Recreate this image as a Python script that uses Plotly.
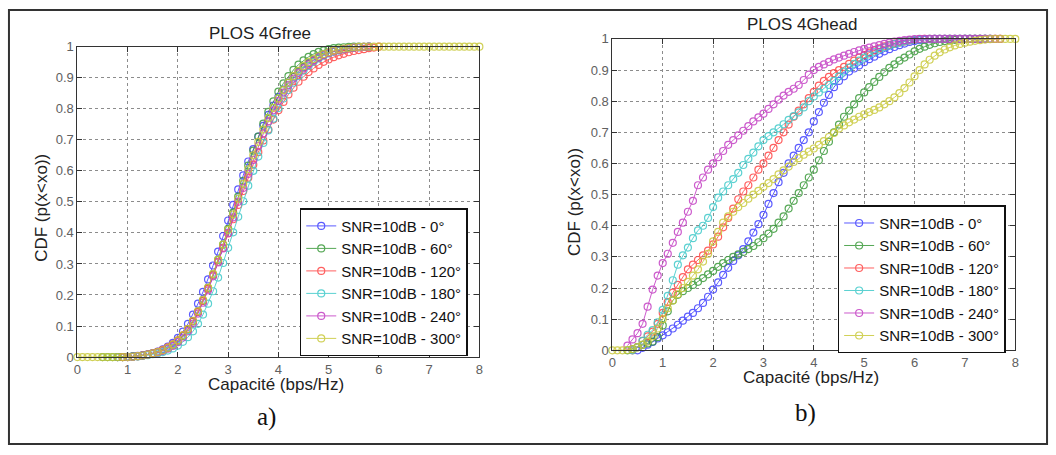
import plotly.graph_objects as go

# ---------------- data ----------------
X_GRID = [0.0, 0.1, 0.2, 0.3, 0.4, 0.5, 0.6, 0.7, 0.8, 0.9,
          1.0, 1.1, 1.2, 1.3, 1.4, 1.5, 1.6, 1.7, 1.8, 1.9,
          2.0, 2.1, 2.2, 2.3, 2.4, 2.5, 2.6, 2.7, 2.8, 2.9,
          3.0, 3.1, 3.2, 3.3, 3.4, 3.5, 3.6, 3.7, 3.8, 3.9,
          4.0, 4.1, 4.2, 4.3, 4.4, 4.5, 4.6, 4.7, 4.8, 4.9,
          5.0, 5.1, 5.2, 5.3, 5.4, 5.5, 5.6, 5.7, 5.8, 5.9,
          6.0, 6.1, 6.2, 6.3, 6.4, 6.5, 6.6, 6.7, 6.8, 6.9,
          7.0, 7.1, 7.2, 7.3, 7.4, 7.5, 7.6, 7.7, 7.8, 7.9, 8.0]

SERIES_NAMES = ["SNR=10dB - 0°", "SNR=10dB - 60°", "SNR=10dB - 120°",
                "SNR=10dB - 180°", "SNR=10dB - 240°", "SNR=10dB - 300°"]

X_TICKS = [0, 1, 2, 3, 4, 5, 6, 7, 8]
Y_TICKS = [0, 0.1, 0.2, 0.3, 0.4, 0.5, 0.6, 0.7, 0.8, 0.9, 1]
Y_TICK_LABELS = ["0", "0.1", "0.2", "0.3", "0.4", "0.5", "0.6", "0.7", "0.8", "0.9", "1"]

# ---- panel a) PLOS 4Gfree : start capacity + CDF values on 0.1 grid ----
A_START = [0.8, 0.5, 0.9, 1.0, 1.0, 0.0]

A_CDF_0 = [0.0, 0.0, 0.001, 0.002, 0.004, 0.006, 0.009, 0.013, 0.018, 0.025,
           0.034, 0.046, 0.062, 0.082, 0.107, 0.137, 0.172, 0.21, 0.25, 0.295,
           0.34, 0.39, 0.44, 0.49, 0.54, 0.585, 0.63, 0.67, 0.71, 0.745,
           0.78, 0.81, 0.838, 0.862, 0.884, 0.903, 0.92, 0.934, 0.947, 0.957,
           0.966, 0.974, 0.98, 0.985, 0.989, 0.992, 0.995, 0.997, 0.998, 0.999, 1.0]
A_CDF_60 = [0.0, 0.0, 0.0, 0.0, 0.0, 0.001, 0.002, 0.003, 0.005, 0.008,
            0.011, 0.015, 0.021, 0.029, 0.039, 0.052, 0.068, 0.089, 0.115, 0.146,
            0.182, 0.222, 0.266, 0.313, 0.362, 0.413, 0.465, 0.517, 0.568, 0.617,
            0.665, 0.71, 0.752, 0.79, 0.824, 0.855, 0.882, 0.905, 0.925, 0.942,
            0.956, 0.967, 0.976, 0.983, 0.988, 0.992, 0.995, 0.997, 0.998, 0.999,
            1.0, 1.0]
A_CDF_120 = [0.0, 0.0, 0.001, 0.003, 0.005, 0.008, 0.012, 0.017, 0.023, 0.031,
             0.041, 0.054, 0.07, 0.09, 0.115, 0.145, 0.18, 0.22, 0.263, 0.307,
             0.352, 0.398, 0.444, 0.49, 0.535, 0.578, 0.62, 0.66, 0.698, 0.733,
             0.765, 0.795, 0.822, 0.846, 0.868, 0.887, 0.903, 0.918, 0.93, 0.941,
             0.951, 0.959, 0.966, 0.972, 0.977, 0.982, 0.986, 0.989, 0.992, 0.995,
             0.997, 1.0]
A_CDF_180 = [0.0, 0.001, 0.002, 0.004, 0.006, 0.009, 0.012, 0.016, 0.021, 0.028,
             0.037, 0.049, 0.064, 0.083, 0.107, 0.137, 0.172, 0.212, 0.256, 0.303,
             0.352, 0.402, 0.452, 0.502, 0.552, 0.6, 0.646, 0.69, 0.73, 0.768,
             0.802, 0.833, 0.86, 0.884, 0.905, 0.923, 0.938, 0.951, 0.962, 0.971,
             0.978, 0.984, 0.988, 0.992, 0.995, 0.997, 0.998, 0.999, 1.0]
A_CDF_240 = [0.0, 0.001, 0.003, 0.005, 0.008, 0.011, 0.015, 0.02, 0.027, 0.036,
             0.048, 0.063, 0.083, 0.108, 0.14, 0.175, 0.215, 0.26, 0.305, 0.35,
             0.4, 0.45, 0.5, 0.545, 0.59, 0.635, 0.68, 0.72, 0.76, 0.795,
             0.825, 0.852, 0.876, 0.897, 0.915, 0.93, 0.943, 0.955, 0.965, 0.973,
             0.98, 0.985, 0.989, 0.992, 0.995, 0.997, 0.998, 0.999, 1.0]
A_CDF_300 = [0.0, 0.0, 0.0, 0.0, 0.0, 0.0, 0.0, 0.0, 0.0, 0.0,
             0.0, 0.001, 0.003, 0.005, 0.008, 0.012, 0.016, 0.022, 0.03, 0.04,
             0.053, 0.07, 0.091, 0.117, 0.148, 0.184, 0.224, 0.268, 0.314, 0.362,
             0.41, 0.46, 0.51, 0.558, 0.605, 0.65, 0.693, 0.733, 0.77, 0.803,
             0.833, 0.86, 0.884, 0.905, 0.922, 0.937, 0.95, 0.96, 0.969, 0.976,
             0.982, 0.987, 0.991, 0.994, 0.996, 0.998, 0.999, 1.0, 1.0, 1.0,
             1.0, 1.0, 1.0, 1.0, 1.0, 1.0, 1.0, 1.0, 1.0, 1.0,
             1.0, 1.0, 1.0, 1.0, 1.0, 1.0, 1.0, 1.0, 1.0, 1.0, 1.0]

# ---- panel b) PLOS 4Ghead ----
B_START = [0.5, 0.3, 0.4, 0.4, 0.3, 0.0]

B_CDF_0 = [0.0, 0.008, 0.018, 0.027, 0.038, 0.048, 0.058, 0.07, 0.082, 0.095,
           0.108, 0.12, 0.135, 0.152, 0.172, 0.195, 0.218, 0.242, 0.265, 0.287,
           0.305, 0.325, 0.35, 0.378, 0.405, 0.435, 0.47, 0.505, 0.54, 0.57,
           0.6, 0.625, 0.65, 0.675, 0.7, 0.735, 0.765, 0.795, 0.82, 0.845,
           0.865, 0.88, 0.895, 0.905, 0.915, 0.925, 0.935, 0.943, 0.952, 0.96,
           0.967, 0.974, 0.98, 0.985, 0.99, 0.993, 0.996, 0.998, 0.999, 1.0,
           1.0, 1.0, 1.0, 1.0, 1.0, 1.0, 1.0, 1.0, 1.0, 1.0, 1.0]
B_CDF_60 = [0.0, 0.004, 0.01, 0.017, 0.022, 0.028, 0.042, 0.08, 0.125, 0.16,
            0.178, 0.19, 0.2, 0.21, 0.22, 0.232, 0.244, 0.255, 0.268, 0.28,
            0.29, 0.3, 0.308, 0.316, 0.325, 0.335, 0.347, 0.36, 0.375, 0.39,
            0.41, 0.43, 0.455, 0.48, 0.505, 0.53, 0.555, 0.58, 0.61, 0.64,
            0.67, 0.7, 0.725, 0.75, 0.77, 0.79, 0.81, 0.828, 0.845, 0.862,
            0.878, 0.893, 0.907, 0.918, 0.93, 0.94, 0.95, 0.96, 0.968, 0.975,
            0.981, 0.986, 0.99, 0.993, 0.995, 0.997, 0.999, 1.0, 1.0, 1.0,
            1.0, 1.0]
B_CDF_120 = [0.0, 0.01, 0.03, 0.045, 0.06, 0.085, 0.12, 0.155, 0.185, 0.21,
             0.235, 0.26, 0.275, 0.29, 0.305, 0.32, 0.34, 0.365, 0.395, 0.425,
             0.455, 0.485, 0.51, 0.53, 0.555, 0.58, 0.6, 0.625, 0.65, 0.675,
             0.7, 0.725, 0.75, 0.77, 0.79, 0.81, 0.83, 0.85, 0.865, 0.878,
             0.89, 0.9, 0.91, 0.92, 0.93, 0.94, 0.948, 0.956, 0.963, 0.97,
             0.976, 0.981, 0.985, 0.989, 0.992, 0.995, 0.997, 0.999, 1.0, 1.0,
             1.0, 1.0, 1.0, 1.0, 1.0, 1.0, 1.0, 1.0, 1.0, 1.0,
             1.0, 1.0, 1.0, 1.0]
B_CDF_180 = [0.0, 0.01, 0.03, 0.05, 0.065, 0.09, 0.13, 0.175, 0.225, 0.275,
             0.305, 0.33, 0.36, 0.385, 0.4, 0.425, 0.46, 0.49, 0.51, 0.53,
             0.55, 0.57, 0.595, 0.615, 0.635, 0.655, 0.675, 0.688, 0.7, 0.713,
             0.726, 0.74, 0.752, 0.764, 0.78, 0.8, 0.815, 0.828, 0.84, 0.852,
             0.865, 0.88, 0.895, 0.908, 0.92, 0.93, 0.94, 0.95, 0.958, 0.966,
             0.973, 0.979, 0.984, 0.988, 0.992, 0.995, 0.997, 0.998, 0.999, 1.0,
             1.0, 1.0, 1.0, 1.0, 1.0, 1.0, 1.0, 1.0, 1.0, 1.0,
             1.0, 1.0]
B_CDF_240 = [0.015, 0.035, 0.055, 0.085, 0.14, 0.195, 0.24, 0.28, 0.31, 0.345,
             0.38, 0.41, 0.445, 0.48, 0.53, 0.555, 0.58, 0.6, 0.62, 0.64,
             0.66, 0.675, 0.69, 0.705, 0.72, 0.735, 0.748, 0.76, 0.775, 0.79,
             0.805, 0.818, 0.83, 0.84, 0.852, 0.868, 0.885, 0.9, 0.91, 0.918,
             0.926, 0.934, 0.94, 0.946, 0.952, 0.958, 0.963, 0.968, 0.972, 0.976,
             0.98, 0.984, 0.988, 0.991, 0.994, 0.996, 0.998, 0.999, 1.0, 1.0,
             1.0, 1.0, 1.0, 1.0, 1.0, 1.0, 1.0, 1.0, 1.0, 1.0,
             1.0, 1.0, 1.0, 1.0, 1.0]
B_CDF_300 = [0.0, 0.0, 0.0, 0.001, 0.004, 0.01, 0.018, 0.028, 0.045, 0.07,
             0.1, 0.135, 0.16, 0.18, 0.2, 0.22, 0.24, 0.26, 0.285, 0.31,
             0.35, 0.38, 0.41, 0.43, 0.445, 0.46, 0.473, 0.487, 0.5, 0.512,
             0.525, 0.537, 0.55, 0.565, 0.578, 0.59, 0.605, 0.617, 0.628, 0.638,
             0.648, 0.66, 0.672, 0.685, 0.698, 0.712, 0.722, 0.732, 0.741, 0.75,
             0.758, 0.765, 0.772, 0.78, 0.79, 0.8, 0.812, 0.826, 0.842, 0.86,
             0.88, 0.9, 0.918, 0.933, 0.946, 0.957, 0.966, 0.973, 0.979, 0.984,
             0.988, 0.991, 0.994, 0.996, 0.998, 0.999, 1.0, 1.0, 1.0, 1.0, 1.0]

A_SERIES = [A_CDF_0, A_CDF_60, A_CDF_120, A_CDF_180, A_CDF_240, A_CDF_300]
B_SERIES = [B_CDF_0, B_CDF_60, B_CDF_120, B_CDF_180, B_CDF_240, B_CDF_300]

COLORS = ["#3f3fff", "#3a9a3a", "#ff4545", "#3fcaca", "#c43fc4", "#c9c93a"]

# ---------------- figure ----------------
W, H = 1056, 455
fig = go.Figure()


def add_panel(starts, series, xa, ya, legend_name):
    for name, start, ys, col in zip(SERIES_NAMES, starts, series, COLORS):
        i0 = X_GRID.index(start)
        xs = X_GRID[i0:i0 + len(ys)]
        fig.add_trace(go.Scatter(
            x=xs, y=ys, mode="lines+markers", name=name,
            xaxis=xa, yaxis=ya, legend=legend_name,
            line=dict(color=col, width=1),
            marker=dict(symbol="circle-open", size=7, color=col,
                        line=dict(width=1.2, color=col)),
            cliponaxis=False, opacity=0.85,
        ))


add_panel(A_START, A_SERIES, "x", "y", "legend")
add_panel(B_START, B_SERIES, "x2", "y2", "legend2")


def px_x(p):
    return p / W


def px_y(p):
    return 1 - p / H


axis_common = dict(
    showline=True, linecolor="#333", linewidth=1, mirror="ticks",
    ticks="inside", ticklen=5, tickcolor="#333",
    showgrid=True, gridcolor="#8c8c8c", griddash="dot", gridwidth=1,
    zeroline=False, tickfont=dict(family="Liberation Sans", size=13, color="#606060"),
)

legend_common = dict(xanchor="left", yanchor="top",
                     bgcolor="white", bordercolor="#111", borderwidth=1.5,
                     font=dict(family="Liberation Sans", size=15, color="#111"),
                     itemwidth=30, tracegroupgap=0)

fig.update_layout(
    width=W, height=H,
    margin=dict(l=0, r=0, t=0, b=0),
    paper_bgcolor="white", plot_bgcolor="white",
    font=dict(family="Liberation Sans", color="#222"),
    xaxis=dict(domain=[px_x(74), px_x(479)], range=[0, 8], tickvals=X_TICKS,
               anchor="y", **axis_common),
    yaxis=dict(domain=[px_y(362), px_y(41)], range=[0, 1], tickvals=Y_TICKS,
               ticktext=Y_TICK_LABELS, anchor="x", **axis_common),
    xaxis2=dict(domain=[px_x(613), px_x(1019)], range=[0, 8], tickvals=X_TICKS,
                anchor="y2", **axis_common),
    yaxis2=dict(domain=[px_y(355), px_y(33)], range=[0, 1], tickvals=Y_TICKS,
                ticktext=Y_TICK_LABELS, anchor="x2", **axis_common),
    legend=dict(x=px_x(298), y=px_y(208), **legend_common),
    legend2=dict(x=px_x(840), y=px_y(205), **legend_common),
    showlegend=True,
)

ann = []
ann.append(dict(text="PLOS 4Gfree", x=px_x(258), y=px_y(27), font=dict(size=17)))
ann.append(dict(text="PLOS 4Ghead", x=px_x(805), y=px_y(18), font=dict(size=17)))
ann.append(dict(text="CDF (p(x<xo))", x=px_x(37), y=px_y(208), textangle=-90, font=dict(size=17)))
ann.append(dict(text="CDF (p(x<xo))", x=px_x(575), y=px_y(202), textangle=-90, font=dict(size=17)))
ann.append(dict(text="Capacité (bps/Hz)", x=px_x(274), y=px_y(390), font=dict(size=17)))
ann.append(dict(text="Capacité (bps/Hz)", x=px_x(813), y=px_y(383), font=dict(size=17)))
ann.append(dict(text="a)", x=px_x(265), y=px_y(424),
                font=dict(family="Liberation Serif", size=25, color="#111")))
ann.append(dict(text="b)", x=px_x(808), y=px_y(420),
                font=dict(family="Liberation Serif", size=25, color="#111")))
for a in ann:
    a.update(xref="paper", yref="paper", showarrow=False, xanchor="center", yanchor="middle")
fig.update_layout(annotations=ann)

fig.add_shape(type="rect", xref="paper", yref="paper",
              x0=px_x(5), x1=px_x(1051), y0=px_y(452), y1=px_y(3),
              line=dict(color="#333", width=2), fillcolor="rgba(0,0,0,0)", layer="above")

fig.write_html(
    "out.html",
    config={"displayModeBar": False},
    post_script="document.body.style.margin='0';document.body.style.overflow='hidden';"
                "document.documentElement.style.overflow='hidden';",
)
